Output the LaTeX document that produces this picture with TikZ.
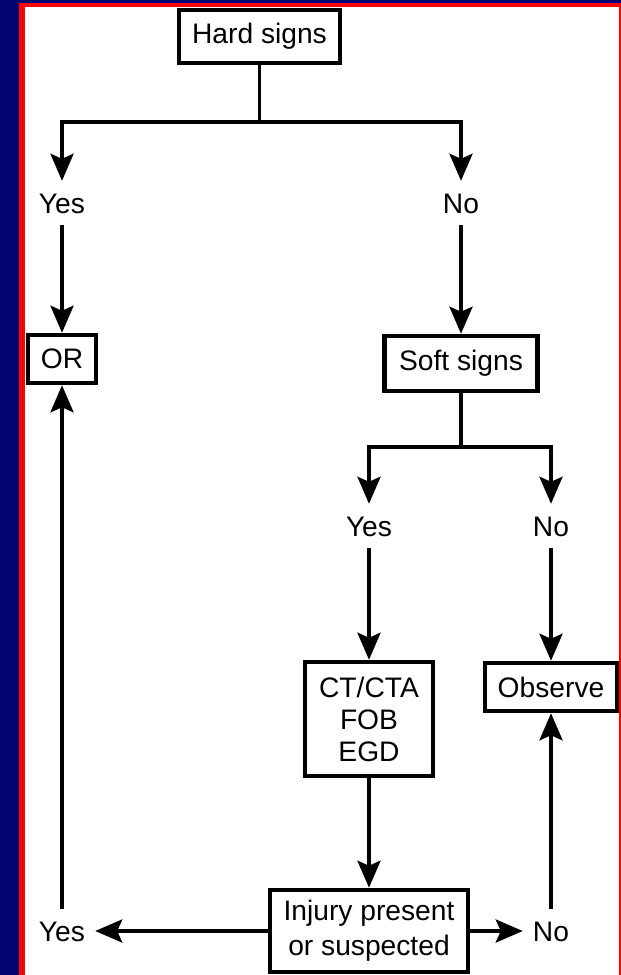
\documentclass[tikz,border=0pt]{standalone}
\usepackage{fontspec}
\setmainfont{Liberation Sans}
\usetikzlibrary{arrows.meta}
\definecolor{bgblue}{RGB}{2,2,112}
\definecolor{framered}{RGB}{255,0,0}
\newcommand\diagfont{\fontsize{28.2}{33}\selectfont}
\begin{document}
\begin{tikzpicture}[x=1pt,y=-1pt,
  box/.style={draw,line width=4.5pt,fill=white,inner sep=0pt,align=center,font=\diagfont},
  lab/.style={inner xsep=10pt,inner ysep=0pt,text height=20pt,text depth=0pt,minimum height=44pt,font=\diagfont},
  arr/.style={line width=3.8pt,-{Stealth[length=27pt,width=23pt,inset=5pt]}},
  ln/.style={line width=3.8pt}]
\useasboundingbox (0,0) rectangle (621,975);
% background and frame
\fill[bgblue] (0,0) rectangle (621,975);
\fill[framered] (19,3) rectangle (621,975);
\fill[white] (25,7) rectangle (618.5,975);
% nodes
\node[box,minimum width=161pt,minimum height=53pt] (hard) at (259.5,36.5) {Hard signs};
\node[lab] (yes1) at (62,203) {Yes};
\node[lab] (no1) at (461,203) {No};
\node[box,minimum width=68pt,minimum height=48pt] (or) at (62,359) {OR};
\node[box,minimum width=153pt,minimum height=55pt] (soft) at (461,363.5) {Soft signs};
\node[lab] (yes2) at (369,526) {Yes};
\node[lab] (no2) at (551,526) {No};
\node[box,minimum width=128pt,minimum height=114pt] (ct) at (369,719) {CT/CTA\\[-1pt]FOB\\[-1pt]EGD};
\node[box,minimum width=132pt,minimum height=48pt] (obs) at (551,687) {Observe};
\node[box,minimum width=198pt,minimum height=82pt] (inj) at (369,931) {Injury present\\[2pt]or suspected};
\node[lab] (yes3) at (62,931) {Yes};
\node[lab] (no3) at (551,931) {No};
% connectors
\draw[ln] (hard.south) -- ++(0,57) coordinate (j1);
\draw[arr] (j1) -| (yes1.north);
\draw[arr] (j1) -| (no1.north);
\draw[arr] (yes1) -- (or);
\draw[arr] (no1) -- (soft);
\draw[ln] (soft.south) -- ++(0,54) coordinate (j2);
\draw[arr] (j2) -| (yes2.north);
\draw[arr] (j2) -| (no2.north);
\draw[arr] (yes2) -- (ct);
\draw[arr] (no2) -- (obs);
\draw[arr] (ct) -- (inj);
\draw[arr] (inj) -- (yes3);
\draw[arr] (inj) -- (no3);
\draw[arr] (yes3) -- (or);
\draw[arr] (no3) -- (obs);
\end{tikzpicture}
\end{document}
